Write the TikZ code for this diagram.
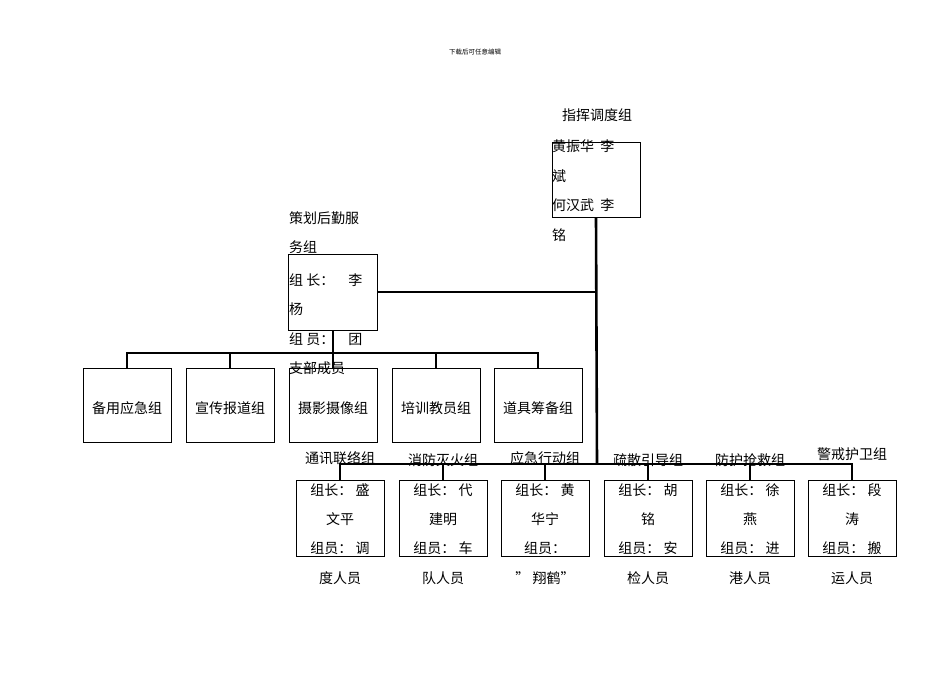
\documentclass[tikz,border=0pt]{standalone}
\usepackage{fontspec}
\setmainfont{Noto Sans CJK SC}
\begin{document}
\begin{tikzpicture}[x=1pt,y=-1pt,
  box/.style={draw,line width=0.7pt},
  bus/.style={line width=2.6pt},
  t/.style={font=\fontsize{14}{14}\selectfont,inner sep=0pt},
  tl/.style={t,anchor=west}]
\useasboundingbox (0,0) rectangle (950,672);
\node[inner sep=0pt,font=\fontsize{6.5}{6.5}\selectfont] (hdr) at (475,52) {下载后可任意编辑};
% top box
\node[box,minimum width=0pt] (top) at (596,179.5) [minimum width=88pt,minimum height=75pt] {};
\node[t] (toplab) at (597,115) {指挥调度组};
\node[tl] at (552,146) {黄振华\ \ 李};
\node[tl] at (552,176) {斌};
\node[tl] at (552,205) {何汉武\ \ 李};
\node[tl] at (552,235) {铭};
% planning box
\node[box,minimum width=89pt,minimum height=76pt] (plan) at (332.5,292) {};
\node[tl] at (289,218) {策划后勤服};
\node[tl] at (289,247) {务组};
\node[tl] at (289,280) {组\ 长：\quad 李};
\node[tl] at (289,309) {杨};
\node[tl] at (289,339) {组\ 员：\quad 团};
\node[tl] at (289,368) {支部成员};
% main connectors
\coordinate (j1) at (597,292);
\coordinate (j2) at (597,464);
\draw[bus] (top.south) -- (j2);
\draw[bus] (plan.east) -- (j1);
% row 1
\coordinate (p1) at (333,353);
\draw[bus] (333,330) -- (p1);
\foreach \x/\n/\s in {127/r1/备用应急组,230/r2/宣传报道组,333/r3/摄影摄像组,436/r4/培训教员组,538/r5/道具筹备组}{
  \node[box,minimum width=88pt,minimum height=74pt] (\n) at (\x,405) {};
  \node[t] at (\x,408) {\s};
}
\draw[bus] (r1.north) |- (p1) -| (r5.north);
\foreach \n in {r2,r3,r4}{\draw[bus] (\n.north) -- (\n.north |- p1);}
% row 2
\foreach \x/\n/\lab/\a/\b/\c/\d/\ly in {
 340/b1/通讯联络组/组长：\ 盛/文平/组员：\ 调/度人员/458,
 443/b2/消防灭火组/组长：\ 代/建明/组员：\ 车/队人员/460,
 545/b3/应急行动组/组长：\ 黄/华宁/组员：\ /”\ 翔鹤”/458,
 648/b4/疏散引导组/组长：\ 胡/铭/组员：\ 安/检人员/460,
 750/b5/防护抢救组/组长：\ 徐/燕/组员：\ 进/港人员/460,
 852/b6/警戒护卫组/组长：\ 段/涛/组员：\ 搬/运人员/454}{
  \node[box,minimum width=88pt,minimum height=76pt] (\n) at (\x,518) {};
  \node[t] at (\x,\ly) {\lab};
  \node[t] at (\x,490) {\a};
  \node[t] at (\x,519) {\b};
  \node[t] at (\x,548) {\c};
  \node[t] at (\x,578) {\d};
}
\draw[bus] (b1.north) |- (j2) -| (b6.north);
\foreach \n in {b2,b3,b4,b5}{\draw[bus] (\n.north) -- (\n.north |- j2);}
\end{tikzpicture}
\end{document}
